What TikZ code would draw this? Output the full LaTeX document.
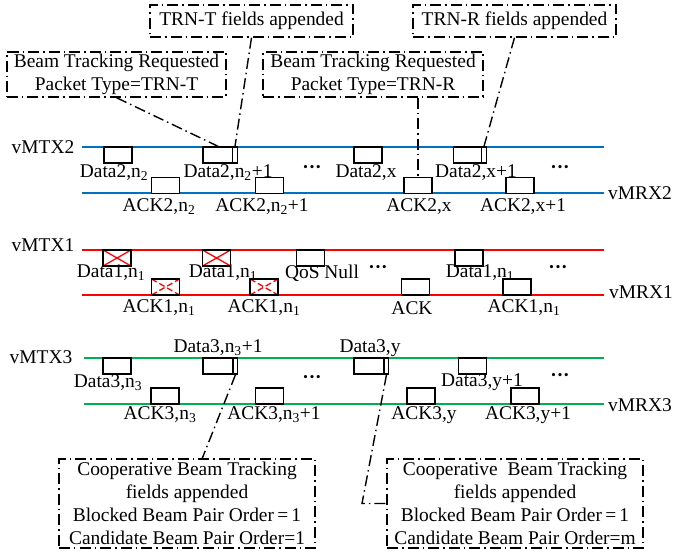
\documentclass[tikz,border=0pt]{standalone}
\usepackage{fontspec}
\setmainfont{Liberation Serif}
\definecolor{lineblue}{RGB}{0,112,192}
\definecolor{linegreen}{RGB}{0,176,80}
\tikzset{
	pkt/.style={draw, fill=white, line width=1.4bp, minimum width=28bp, minimum height=16bp, inner sep=0pt},
	subpkt/.style={pkt, minimum width=4.5bp},
	lostpkt/.style={pkt, path picture={\draw[red, line width=1.3bp] (path picture bounding box.north west) -- (path picture bounding box.south east) (path picture bounding box.south west) -- (path picture bounding box.north east);}},
	lostack/.style={pkt, path picture={\draw[red, line width=1.3bp, dash pattern=on 6bp off 3bp] (path picture bounding box.north west) -- (path picture bounding box.south east) (path picture bounding box.south west) -- (path picture bounding box.north east);}},
	callout/.style={draw, line width=1.4bp, dash pattern=on 11bp off 4bp on 1.5bp off 4bp, align=center, inner sep=0pt},
	leader/.style={line width=1.4bp, dash pattern=on 11bp off 4bp on 1.5bp off 4bp},
	tline/.style={line width=1.4bp},
	more/.style={font=\fontsize{19.5}{23}\selectfont\bfseries},
}

\begin{document}
\begin{tikzpicture}[x=1bp, y=-1bp, every node/.style={font=\fontsize{19.5}{23}\selectfont}]
	\useasboundingbox (0,0) rectangle (673,555);
	\node[callout, minimum width=203bp, minimum height=32bp] (trnT) at (251.5,21) {TRN-T fields appended};
	\node[callout, minimum width=203bp, minimum height=32bp] (trnR) at (514.5,21) {TRN-R fields appended};
	\node[callout, minimum width=219bp, minimum height=45bp] (btT) at (116.5,74.5) {Beam Tracking Requested\\Packet Type=TRN-T};
	\node[callout, minimum width=220bp, minimum height=45bp] (btR) at (373,74.5) {Beam Tracking Requested\\Packet Type=TRN-R};
	\draw[tline, lineblue] (82,147) -- (604,147);
	\draw[tline, lineblue] (82,193) -- (604,193);
	\node (mtx2) at (43,147) {vMTX2};
	\node (mrx2) at (640,193) {vMRX2};
	\node[pkt] (d2a) at (118,155) {};
	\node[pkt, minimum width=30bp] (d2b) at (218,155) {};
	\node[subpkt] (d2bs) at (235,155) {};
	\node[pkt] (d2c) at (368,155) {};
	\node[pkt] (d2d) at (467.5,155) {};
	\node[subpkt] (d2ds) at (484,155) {};
	\node[pkt] (a2a) at (165.5,185.5) {};
	\node[pkt] (a2b) at (269.5,185.5) {};
	\node[pkt] (a2c) at (418,185.5) {};
	\node[pkt] (a2d) at (520,185.5) {};
	\node (l2a) at (114,173) {Data2,n\textsubscript{2}};
	\node (l2b) at (228,173) {Data2,n\textsubscript{2}+1};
	\node (l2c) at (366,173) {Data2,x};
	\node (l2d) at (476,173) {Data2,x+1};
	\node (m2a) at (159,207) {ACK2,n\textsubscript{2}};
	\node (m2b) at (262,207) {ACK2,n\textsubscript{2}+1};
	\node (m2c) at (419,207) {ACK2,x};
	\node (m2d) at (523,207) {ACK2,x+1};
	\node[more] (dots2a) at (312,170) {···};
	\node[more] (dots2b) at (560,170) {···};
	\draw[leader] (btT.south) -- (d2b.north);
	\draw[leader] (trnT.south) -- (d2bs.north);
	\draw[leader] (trnR.south) -- (d2ds.north);
	\draw[leader] (a2c.north |- btR.south) -- (a2c.north);
	\draw[tline, red] (82,250) -- (604,250);
	\draw[tline, red] (82,295) -- (604,295);
	\node (mtx1) at (43,245) {vMTX1};
	\node (mrx1) at (641,292) {vMRX1};
	\node[lostpkt] (d1a) at (117,258) {};
	\node[lostpkt] (d1b) at (216.5,258) {};
	\node[pkt] (q1) at (310.5,258) {};
	\node[pkt] (d1c) at (469,258) {};
	\node[lostack] (a1a) at (165.5,287) {};
	\node[lostack] (a1b) at (264,287) {};
	\node[pkt] (ack) at (415.5,287) {};
	\node[pkt] (a1c) at (517,287) {};
	\node (l1a) at (111,273) {Data1,n\textsubscript{1}};
	\node (l1b) at (223,273) {Data1,n\textsubscript{1}};
	\node (lq1) at (322,273) {QoS Null};
	\node (l1c) at (480,273) {Data1,n\textsubscript{1}};
	\node (m1a) at (159,308) {ACK1,n\textsubscript{1}};
	\node (m1b) at (264,308) {ACK1,n\textsubscript{1}};
	\node (mack) at (412,308) {ACK};
	\node (m1c) at (524,308) {ACK1,n\textsubscript{1}};
	\node[more] (dots1a) at (378,270) {···};
	\node[more] (dots1b) at (558,270) {···};
	\draw[tline, linegreen] (84,358) -- (604,358);
	\draw[tline, linegreen] (84,404) -- (604,404);
	\node (mtx3) at (41,357) {vMTX3};
	\node (mrx3) at (640,405) {vMRX3};
	\node[pkt] (d3a) at (117,366) {};
	\node[pkt, minimum width=30bp] (d3b) at (218,366) {};
	\node[subpkt] (d3bs) at (235.5,366) {};
	\node[pkt, minimum width=30bp] (d3c) at (369,366) {};
	\node[subpkt] (d3cs) at (386.5,366) {};
	\node[pkt] (d3d) at (472.5,366) {};
	\node[pkt] (a3a) at (165,396) {};
	\node[pkt] (a3b) at (269.5,396) {};
	\node[pkt] (a3c) at (421,396) {};
	\node[pkt] (a3d) at (525,396) {};
	\node (l3a) at (108,383) {Data3,n\textsubscript{3}};
	\node (l3b) at (218,348) {Data3,n\textsubscript{3}+1};
	\node (l3c) at (370,348) {Data3,y};
	\node (l3d) at (482,382) {Data3,y+1};
	\node (m3a) at (160,415) {ACK3,n\textsubscript{3}};
	\node (m3b) at (274,415) {ACK3,n\textsubscript{3}+1};
	\node (m3c) at (424,415) {ACK3,y};
	\node (m3d) at (528,415) {ACK3,y+1};
	\node[more] (dots3a) at (312,379) {···};
	\node[more] (dots3b) at (560,377) {···};
	\node[callout, minimum width=256bp, minimum height=89bp] (cb1) at (187,503.5) {Cooperative Beam Tracking\\fields appended\\Blocked Beam Pair Order\,=\,1\\Candidate Beam Pair Order=1};
	\node[callout, minimum width=256bp, minimum height=89bp] (cb2) at (515,503.5) {Cooperative\ \ Beam Tracking\\fields appended\\Blocked Beam Pair Order\,=\,1\\Candidate Beam Pair Order=m};
	\coordinate (c1) at (202,459);
	\coordinate (c2) at (362,503.5);
	\draw[leader] (d3bs.south) -- (c1);
	\draw[leader] (d3cs.south) -- (c2) -- (cb2.west);
\end{tikzpicture}
\end{document}
